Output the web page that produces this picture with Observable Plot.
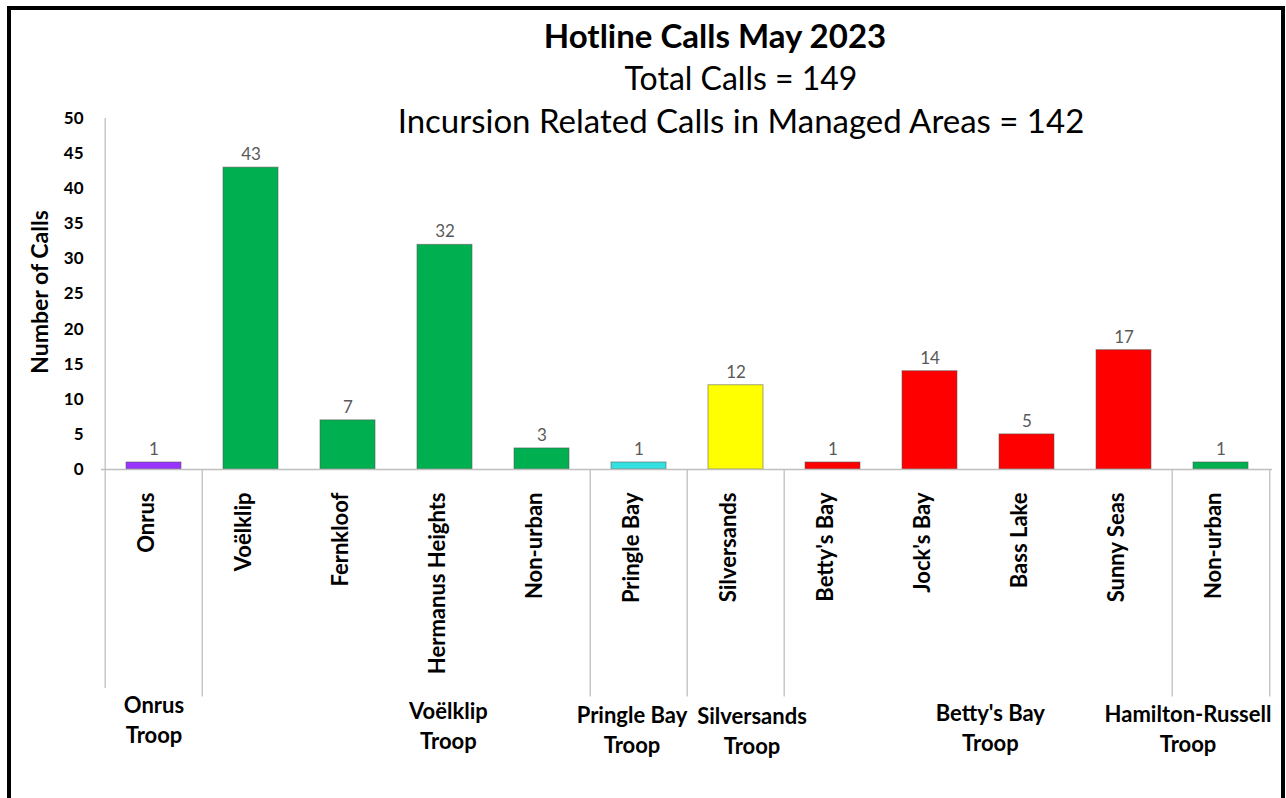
<!DOCTYPE html>
<html>
<head>
<meta charset="utf-8">
<script src="https://cdn.jsdelivr.net/npm/d3@7"></script>
<script src="https://cdn.jsdelivr.net/npm/@observablehq/plot@0.6"></script>
<style>
  html, body { margin: 0; padding: 0; background: #fff; overflow: hidden; }
  #wrap { position: relative; width: 1286px; height: 798px; font-family: Lato, "Open Sans", sans-serif; }
  #frame { position: absolute; left: 7px; top: 6px; width: 1270px; height: 820px; border: 4px solid #000; box-sizing: content-box; }
  #chart { position: absolute; left: 0; top: 0; }
  .t { position: absolute; white-space: nowrap; color: #000; transform: translateX(-50%); line-height: 1; }
</style>
</head>
<body>
<div id="wrap">
  <div id="frame"></div>
  <div id="chart"></div>
  <div class="t" id="t1" style="left:715px; top:19px; font-size:33px; font-weight:700;">Hotline Calls May 2023</div>
  <div class="t" id="t2" style="left:741px; top:62px; font-size:32px;">Total Calls = 149</div>
  <div class="t" id="t3" style="left:741px; top:104px; font-size:33px;">Incursion Related Calls in Managed Areas = 142</div>
</div>
<script>
// ---- data ----
const categories = ["Onrus", "Voëlklip", "Fernkloof", "Hermanus Heights", "Non-urban", "Pringle Bay", "Silversands", "Betty's Bay", "Jock's Bay", "Bass Lake", "Sunny Seas", "Non-urban"];
const calls = [1, 43, 7, 32, 3, 1, 12, 1, 14, 5, 17, 1];
const groupNames = ["Onrus\nTroop", "Voëlklip\nTroop", "Pringle Bay\nTroop", "Silversands\nTroop", "Betty's Bay\nTroop", "Hamilton-Russell\nTroop"];
const groupSizes = [1, 4, 1, 1, 4, 1];
const groupColors = ["#9933FF", "#00B050", "#33E2E0", "#FFFF00", "#FF0000", "#00B050"];
const yTicks = [0, 5, 10, 15, 20, 25, 30, 35, 40, 45, 50];

// ---- layout (style) ----
const W = 1286, H = 798, ML = 101, MR = 14, MT = 118, MB = 329;
const step = (W - ML - MR) / categories.length;
const pxPerUnit = (H - MT - MB) / 50;
const sepLen = 219;
const sepBottom = -sepLen / pxPerUnit;
const groupNudgeX = [0, 51, -7, 16, 11, -33];
const groupNudgeY = [-6, 0, 4, 5, 2, 3];
const groupBaseDy = 228;

// derived tables
const groupStart = [];
const catGroup = [];
{ let s = 0; groupSizes.forEach((n, g) => { groupStart.push(s); for (let k = 0; k < n; k++) catGroup.push(g); s += n; }); }
const bars = categories.map((c, i) => ({i, name: c, value: calls[i], color: groupColors[catGroup[i]]}));
const groups = groupNames.map((name, g) => ({g, name, start: groupStart[g], size: groupSizes[g]}));
const idx = categories.map((_, i) => i);

const groupLabelMarks = groups.map(gr =>
  Plot.text([gr], {x: "start", text: "name", frameAnchor: "bottom", lineAnchor: "top",
    dx: (gr.size - 1) * step / 2 + groupNudgeX[gr.g],
    dy: groupBaseDy + groupNudgeY[gr.g],
    fontSize: 22, fontWeight: 700, fill: "#000", lineHeight: 1.36})
);

const chart = Plot.plot({
  width: W, height: H,
  marginLeft: ML, marginRight: MR, marginTop: MT, marginBottom: MB,
  style: {background: "transparent", fontFamily: "Lato, 'Open Sans', sans-serif", overflow: "visible"},
  x: {type: "band", domain: idx, paddingInner: 0.436, paddingOuter: 0.218, axis: null},
  y: {domain: [0, 50], axis: null},
  color: {type: "identity"},
  marks: [
    // y axis tick labels
    Plot.text(yTicks, {y: d => d, text: d => String(d), frameAnchor: "left", textAnchor: "end", dx: -18, fontSize: 17, fontWeight: 700, fill: "#000"}),
    // axis title
    Plot.text(["Number of Calls"], {frameAnchor: "left", textAnchor: "middle", rotate: -90, dx: -61, dy: -2, fontSize: 23, fontWeight: 700, fill: "#000"}),
    // bars
    Plot.barY(bars, {x: "i", y: "value", fill: "color", stroke: "#555", strokeOpacity: 0.55, strokeWidth: 1}),
    // value labels
    Plot.text(bars, {x: "i", y: "value", text: d => String(d.value), dy: -13, fontSize: 17, fill: "#595959"}),
    // baseline
    Plot.ruleY([0], {stroke: "#bfbfbf", strokeWidth: 1.3}),
    // left axis line
    Plot.ruleX([0], {x: d => d, dx: -step / 2, y1: 50, y2: sepBottom, stroke: "#bfbfbf", strokeWidth: 1.3}),
    // group separators
    Plot.ruleX(groups.slice(1), {x: "start", dx: -step / 2, y1: 0, y2: sepBottom - 1.2, stroke: "#bfbfbf", strokeWidth: 1.3}),
    // right end
    Plot.ruleX([categories.length - 1], {x: d => d, dx: step / 2, y1: 0, y2: sepBottom - 1.2, stroke: "#bfbfbf", strokeWidth: 1.3}),
    // category labels
    Plot.text(bars, {x: "i", text: "name", frameAnchor: "bottom", rotate: -90, textAnchor: "end", dy: 23, fontSize: 22, fontWeight: 700, fill: "#000"}),
    // group labels
    ...groupLabelMarks
  ]
});
document.getElementById("chart").appendChild(chart);
</script>
</body>
</html>
